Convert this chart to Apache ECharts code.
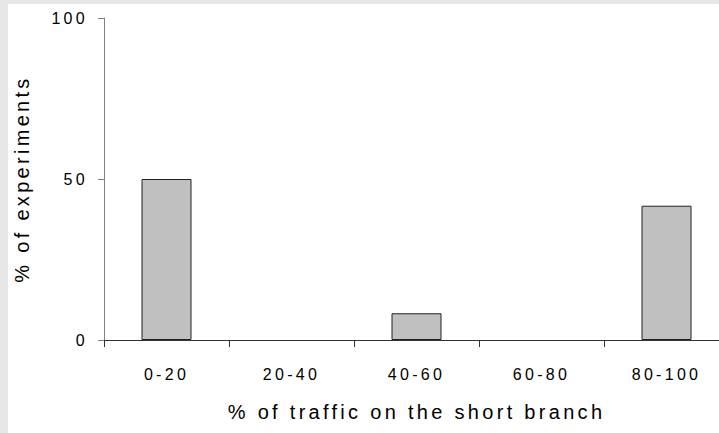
<!DOCTYPE html>
<html>
<head>
<meta charset="utf-8">
<script src="https://cdn.jsdelivr.net/npm/echarts@6/dist/echarts.min.js"></script>
<style>
  html, body { margin: 0; padding: 0; background: #ffffff; }
  #chart { width: 719px; height: 433px; }
  #chart text { letter-spacing: 3.3px; }
</style>
</head>
<body>
<div id="chart"></div>
<script>
const categories = ['0-20', '20-40', '40-60', '60-80', '80-100'];
const experimentsPct = [50, 0, 8.3, 0, 41.7];
const yMin = 0;
const yMax = 100;
const yInterval = 50;
const xAxisTitle = '% of traffic on the short branch';
const yAxisTitle = '% of experiments';

const barData = experimentsPct.map(v => (v === 0 ? { value: v, itemStyle: { borderWidth: 0 } } : v));

const chart = echarts.init(document.getElementById('chart'), null, { renderer: 'svg' });
chart.setOption({
  animation: false,
  backgroundColor: '#ffffff',
  graphic: [
    { type: 'rect', left: 0, top: 0, shape: { width: 8, height: 433 }, style: { fill: '#e6e6e6' }, silent: true },
    { type: 'rect', left: 0, top: 0, shape: { width: 719, height: 4 }, style: { fill: '#e6e6e6' }, silent: true }
  ],
  grid: { left: 104, top: 18, width: 625, height: 322, containLabel: false, outerBoundsMode: 'none' },
  xAxis: {
    type: 'category',
    data: categories,
    boundaryGap: true,
    axisLine: { show: true, lineStyle: { color: '#333333', width: 1 } },
    axisTick: { show: true, length: 7, inside: false, lineStyle: { color: '#333333' } },
    axisLabel: { margin: 26, fontSize: 16, color: '#000000', fontFamily: 'Liberation Sans' },
    name: xAxisTitle,
    nameLocation: 'middle',
    nameGap: 62,
    nameTextStyle: { fontSize: 20, color: '#000000', fontFamily: 'Liberation Sans' },
    splitLine: { show: false }
  },
  yAxis: {
    type: 'value',
    min: yMin,
    max: yMax,
    interval: yInterval,
    axisLine: { show: true, lineStyle: { color: '#808080', width: 1 } },
    axisTick: { show: true, length: 6, inside: false, lineStyle: { color: '#808080' } },
    axisLabel: { margin: 16, fontSize: 16, color: '#000000', fontFamily: 'Liberation Sans' },
    name: yAxisTitle,
    nameLocation: 'middle',
    nameGap: 72,
    nameRotate: 90,
    nameTextStyle: { fontSize: 20, color: '#000000', fontFamily: 'Liberation Sans' },
    splitLine: { show: false }
  },
  series: [{
    type: 'bar',
    data: barData,
    barWidth: 50,
    itemStyle: { color: '#c0c0c0', borderColor: '#222222', borderWidth: 1 },
    silent: true
  }]
});
</script>
</body>
</html>
